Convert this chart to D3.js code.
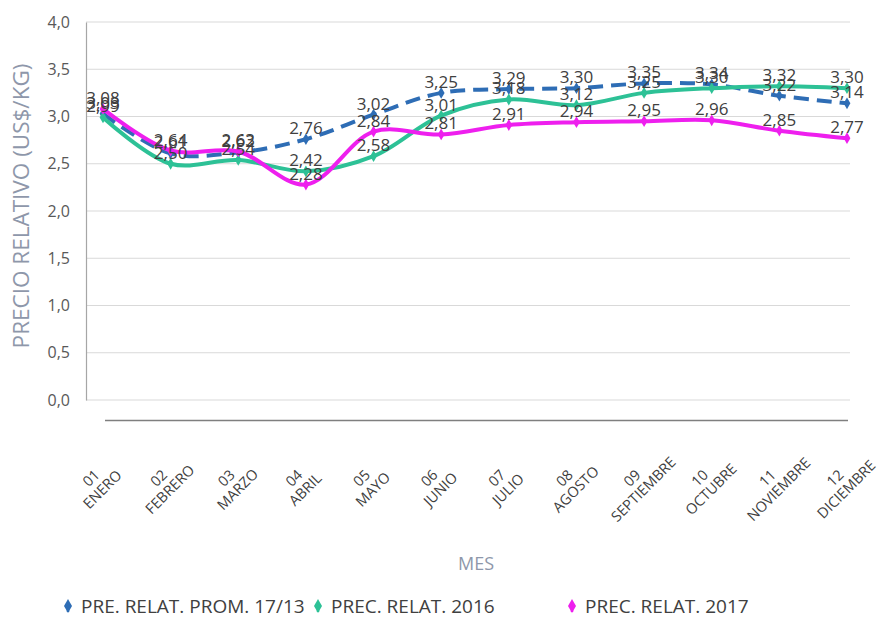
<!DOCTYPE html>
<html>
<head>
<meta charset="utf-8">
<script src="https://cdn.jsdelivr.net/npm/d3@7"></script>
<style>
  html, body { margin: 0; padding: 0; background: #ffffff; }
  svg { display: block; font-family: "Open Sans", "Noto Sans", sans-serif; }
</style>
</head>
<body>
<svg id="chart" width="882" height="618"></svg>
<script>
// Months (two-line category labels)
const monthNums = ["01", "02", "03", "04", "05", "06", "07", "08", "09", "10", "11", "12"];
const monthNames = ["ENERO", "FEBRERO", "MARZO", "ABRIL", "MAYO", "JUNIO", "JULIO", "AGOSTO",
                    "SEPTIEMBRE", "OCTUBRE", "NOVIEMBRE", "DICIEMBRE"];

// Relative price, US$/kg
const promedio1713 = [3.03, 2.61, 2.62, 2.76, 3.02, 3.25, 3.29, 3.30, 3.35, 3.34, 3.22, 3.14];
const relat2016    = [2.99, 2.50, 2.54, 2.42, 2.58, 3.01, 3.18, 3.12, 3.25, 3.30, 3.32, 3.30];
const relat2017    = [3.08, 2.64, 2.63, 2.28, 2.84, 2.81, 2.91, 2.94, 2.95, 2.96, 2.85, 2.77];

const yTicks = [0, 0.5, 1, 1.5, 2, 2.5, 3, 3.5, 4];

const seriesNames = ["PRE. RELAT. PROM. 17/13", "PREC. RELAT. 2016", "PREC. RELAT. 2017"];
const seriesColors = ["#2e6db5", "#2dc196", "#ee1fee"];

const series = [
  { name: seriesNames[0], values: promedio1713, color: seriesColors[0], dash: "15,8" },
  { name: seriesNames[1], values: relat2016, color: seriesColors[1], dash: null },
  { name: seriesNames[2], values: relat2017, color: seriesColors[2], dash: null }
];

const fmt = v => d3.format(".2f")(v).replace(".", ",");
const fmtTick = v => d3.format(".1f")(v).replace(".", ",");

const svg = d3.select("#chart");

const plot = { left: 86, right: 850, top: 22, bottom: 400 };

const x = d3.scalePoint().domain(monthNums).range([103, 847]);
const y = d3.scaleLinear().domain([0, 4]).range([plot.bottom, plot.top]);

// Horizontal gridlines
svg.append("g")
  .selectAll("line")
  .data(yTicks)
  .join("line")
  .attr("x1", plot.left).attr("x2", plot.right)
  .attr("y1", d => y(d)).attr("y2", d => y(d))
  .attr("stroke", "#d9d9d9").attr("stroke-width", 1);

// Value axis
const yAxis = d3.axisLeft(y).tickValues(yTicks).tickFormat(fmtTick).tickSize(0).tickPadding(16);
const yAxisG = svg.append("g").attr("transform", `translate(${plot.left},0)`).call(yAxis);
yAxisG.select(".domain").attr("stroke", "#a6a6a6").attr("stroke-width", 1.2);
yAxisG.selectAll("text").attr("fill", "#595959").style("font-size", "16px")
  .style("font-family", "'Open Sans', sans-serif");

// Category axis line below the plot
const xAxis = d3.axisBottom(x).tickSize(0).tickFormat("");
const xAxisG = svg.append("g").attr("transform", "translate(0,420)").call(xAxis);
xAxisG.select(".domain").attr("stroke", "#7f7f7f").attr("stroke-width", 1.3)
  .attr("d", "M105,0.5H848");

// Rotated two-line month labels
const xl = svg.append("g").selectAll("g")
  .data(monthNums)
  .join("g")
  .attr("transform", d => `translate(${x(d) - 2},488) rotate(-45)`);
const xt = xl.append("text")
  .attr("text-anchor", "middle")
  .attr("fill", "#404040")
  .style("font-size", "14.5px");
xt.append("tspan").attr("x", 0).attr("y", -9).text(d => d);
xt.append("tspan").attr("x", 0).attr("y", 7).text((d, i) => monthNames[i]);

// Axis titles
svg.append("text")
  .attr("transform", "translate(29,206) rotate(-90)")
  .attr("text-anchor", "middle")
  .attr("fill", "#8e97aa")
  .style("font-size", "22.5px")
  .text("PRECIO RELATIVO (US$/KG)");

svg.append("text")
  .attr("x", 476).attr("y", 570)
  .attr("text-anchor", "middle")
  .attr("fill", "#8e97aa")
  .style("font-size", "18px")
  .text("MES");

// Lines
const line = d3.line()
  .x((d, i) => x(monthNums[i]))
  .y(d => y(d))
  .curve(d3.curveCatmullRom.alpha(0.5));

const diamond = d3.symbol().type(d3.symbolDiamond).size(40);

series.forEach(s => {
  svg.append("path")
    .datum(s.values)
    .attr("d", line)
    .attr("fill", "none")
    .attr("stroke", s.color)
    .attr("stroke-width", 4)
    .attr("stroke-linecap", s.dash ? "butt" : "round")
    .attr("stroke-dasharray", s.dash);
  svg.append("g").selectAll("path")
    .data(s.values)
    .join("path")
    .attr("d", diamond)
    .attr("transform", (d, i) => `translate(${x(monthNums[i])},${y(d)})`)
    .attr("fill", s.color);
});

// Data labels
series.forEach(s => {
  svg.append("g").selectAll("text")
    .data(s.values)
    .join("text")
    .attr("x", (d, i) => x(monthNums[i]))
    .attr("y", d => y(d) - 5)
    .attr("text-anchor", "middle")
    .attr("fill", "#404040")
    .style("font-size", "17px")
    .text(fmt);
});

// Legend
const legendPos = [68, 318, 572];
const lg = svg.append("g").selectAll("g")
  .data(series)
  .join("g")
  .attr("transform", (d, i) => `translate(${legendPos[i]},607)`);
lg.append("line")
  .attr("x1", 0).attr("x2", 0).attr("y1", -1).attr("y2", 5)
  .attr("stroke", d => d.color).attr("stroke-width", 2.5);
lg.append("path")
  .attr("d", d3.symbol().type(d3.symbolDiamond).size(55))
  .attr("transform", "translate(0,-1)")
  .attr("fill", d => d.color);
lg.append("text")
  .attr("x", 13).attr("y", 6)
  .attr("fill", "#404040")
  .style("font-size", "19px")
  .text(d => d.name);
</script>
</body>
</html>
